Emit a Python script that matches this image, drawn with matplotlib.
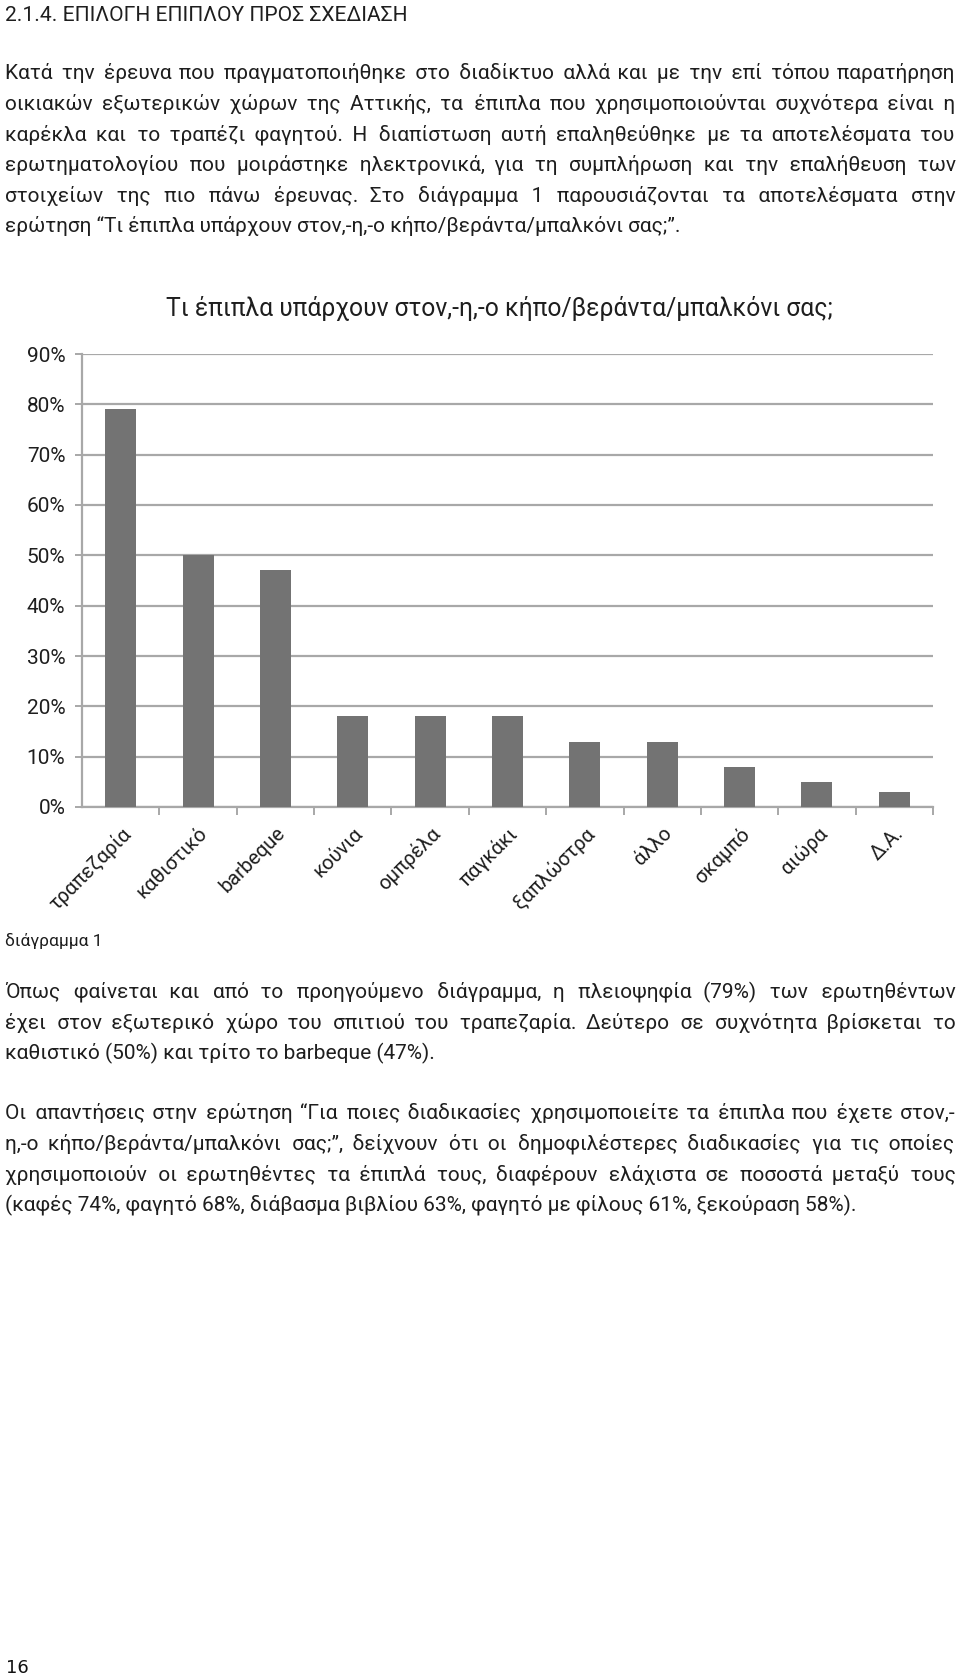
import matplotlib
matplotlib.use("Agg")
import matplotlib.pyplot as plt
from matplotlib.ticker import FixedLocator


# Page 16 of the report: section heading, text, bar chart "διάγραμμα 1", more text.

BODY_FONT = ["Roboto", "DejaVu Sans"]
TEXT_COLOR = "#1e1e1e"

categories = ["τραπεζαρία", "καθιστικό", "barbeque", "κούνια", "ομπρέλα", "παγκάκι",
              "ξαπλώστρα", "άλλο", "σκαμπό", "αιώρα", "Δ.Α."]
shares = [79, 50, 47, 18, 18, 18, 13, 13, 8, 5, 3]
y_ticks = [0, 10, 20, 30, 40, 50, 60, 70, 80, 90]
y_tick_labels = [f"{v}%" for v in y_ticks]

heading = "2.1.4. ΕΠΙΛΟΓΗ ΕΠΙΠΛΟΥ ΠΡΟΣ ΣΧΕΔΙΑΣΗ"
chart_title = "Τι έπιπλα υπάρχουν στον,-η,-ο κήπο/βεράντα/μπαλκόνι σας;"
caption = "διάγραμμα 1"
page_number = "16"

para1 = [
    "Κατά την έρευνα που πραγματοποιήθηκε στο διαδίκτυο αλλά και με την επί τόπου παρατήρηση",
    "οικιακών εξωτερικών χώρων της Αττικής, τα έπιπλα που χρησιμοποιούνται συχνότερα είναι η",
    "καρέκλα και το τραπέζι φαγητού. Η διαπίστωση αυτή επαληθεύθηκε με τα αποτελέσματα του",
    "ερωτηματολογίου που μοιράστηκε ηλεκτρονικά, για τη συμπλήρωση και την επαλήθευση των",
    "στοιχείων της πιο πάνω έρευνας. Στο διάγραμμα 1 παρουσιάζονται τα αποτελέσματα στην",
    "ερώτηση “Τι έπιπλα υπάρχουν στον,-η,-ο κήπο/βεράντα/μπαλκόνι σας;”.",
]
para2 = [
    "Όπως φαίνεται και από το προηγούμενο διάγραμμα, η πλειοψηφία (79%) των ερωτηθέντων",
    "έχει στον εξωτερικό χώρο του σπιτιού του τραπεζαρία. Δεύτερο σε συχνότητα βρίσκεται το",
    "καθιστικό (50%) και τρίτο το barbeque (47%).",
]
para3 = [
    "Οι απαντήσεις στην ερώτηση “Για ποιες διαδικασίες χρησιμοποιείτε τα έπιπλα που έχετε στον,-",
    "η,-ο κήπο/βεράντα/μπαλκόνι σας;”, δείχνουν ότι οι δημοφιλέστερες διαδικασίες για τις οποίες",
    "χρησιμοποιούν οι ερωτηθέντες τα έπιπλά τους, διαφέρουν ελάχιστα σε ποσοστά μεταξύ τους",
    "(καφές 74%, φαγητό 68%, διάβασμα βιβλίου 63%, φαγητό με φίλους 61%, ξεκούραση 58%).",
]

W, H = 960, 1678
LEFT, RIGHT = 5, 955
BODY_SIZE = 15
HAIR = "\u200a"

fig = plt.figure(figsize=(W / 100, H / 100), dpi=100)
fig.patch.set_facecolor("white")

# page layer in pixel units (y down)
page = fig.add_axes([0, 0, 1, 1])
page.set_xlim(0, W)
page.set_ylim(H, 0)
page.axis("off")
renderer = fig.canvas.get_renderer()


def text_width(t):
    return t.get_window_extent(renderer=renderer).width


def measure(s, size):
    t = page.text(0, 0, s, fontsize=size, family=BODY_FONT)
    w = text_width(t)
    t.remove()
    return w


def fitted_text(x, y, s, target_width, ha="left", base=14):
    # scale the font so the string spans the same width as in the reference
    t = page.text(x, y, s, fontsize=base, family=BODY_FONT, color=TEXT_COLOR,
                  ha=ha, va="baseline")
    t.set_fontsize(base * target_width / text_width(t))
    return t


def justify(line, size):
    # widen the word gaps with hair spaces so the line spans LEFT..RIGHT
    avail = RIGHT - LEFT
    natural = measure(line, size)
    if natural > avail:
        size = size * avail / natural * 0.995
        natural = measure(line, size)
    hair_w = (measure("a" + HAIR * 40 + "a", size) - measure("aa", size)) / 40
    words = line.split(" ")
    per_gap = (avail - natural) / (len(words) - 1) / hair_w
    parts = [words[0]]
    acc, used = 0.0, 0
    for w in words[1:]:
        acc += per_gap
        k = int(round(acc)) - used
        used += k
        parts.append(" " + HAIR * k + w)
    return "".join(parts), size


def put_paragraph(first_baseline, lines, step=30.7):
    for i, line in enumerate(lines):
        size = BODY_SIZE
        if i < len(lines) - 1:
            line, size = justify(line, size)
        page.text(LEFT, first_baseline + i * step, line, fontsize=size, family=BODY_FONT,
                  color=TEXT_COLOR, ha="left", va="baseline")


fitted_text(LEFT, 21, heading, 402)
put_paragraph(79, para1)
fitted_text(499, 316, chart_title, 666, ha="center", base=16)
page.text(LEFT, 946, caption, fontsize=12.5, family=BODY_FONT, color=TEXT_COLOR,
          ha="left", va="baseline")
put_paragraph(998, para2)
put_paragraph(1119, para3)
page.text(6, 1673, page_number, fontsize=13, family="DejaVu Sans", color="#111111",
          ha="left", va="baseline")

# bar chart
ax = fig.add_axes([82 / W, 1 - 807 / H, (933 - 82) / W, (807 - 354) / H])
ax.set_facecolor("none")
x = list(range(len(categories)))
ax.bar(x, shares, width=0.4, color="#737373", zorder=3)
ax.set_xlim(-0.5, len(categories) - 0.5)
ax.set_ylim(0, 90)

grid_color = "#a8a8a8"
ax.yaxis.grid(True, color=grid_color, linewidth=1.6, zorder=0)
ax.set_axisbelow(True)
for side in ["top", "right"]:
    ax.spines[side].set_visible(False)
for side in ["left", "bottom"]:
    ax.spines[side].set_color(grid_color)
    ax.spines[side].set_linewidth(1.6)

ax.set_yticks(y_ticks)
ax.set_yticklabels(y_tick_labels)
ax.tick_params(axis="y", length=5, width=1.4, color=grid_color, pad=7,
               labelsize=15, labelcolor=TEXT_COLOR)
for lab in ax.get_yticklabels():
    lab.set_family(BODY_FONT)

ax.set_xticks(x)
ax.set_xticklabels(categories, rotation=45, ha="right", rotation_mode="anchor",
                   family=BODY_FONT, fontsize=14.5, color=TEXT_COLOR)
ax.tick_params(axis="x", which="major", length=0, pad=12)
ax.xaxis.set_minor_locator(FixedLocator([i + 0.5 for i in range(len(categories))]))
ax.tick_params(axis="x", which="minor", length=6, width=1.4, color=grid_color)

fig.savefig("out.png", dpi=100, facecolor="white")
